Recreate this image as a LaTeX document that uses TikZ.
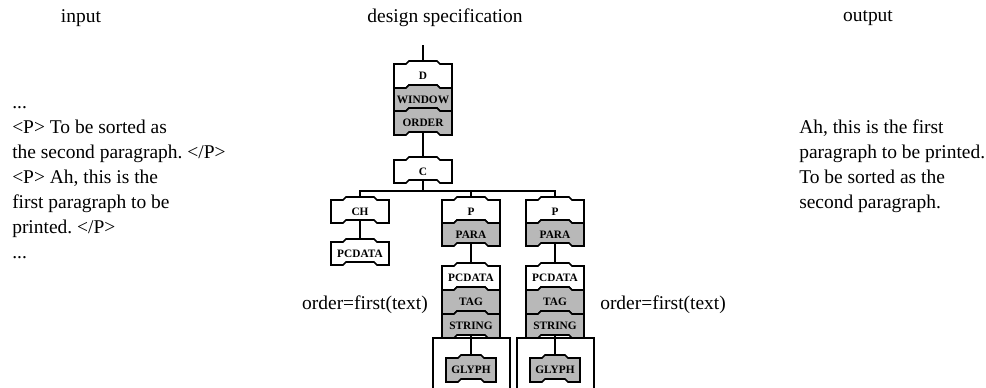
\documentclass[tikz,border=0pt]{standalone}
\usepackage{fontspec}
\setmainfont{Liberation Serif}
\frenchspacing
\newcommand{\tabseg}[5]{%
  \filldraw[seg, fill=#5] ({#1-#4},#2) -- ({#1-#4+12},#2) -- ({#1-#4+15},{#2-3}) -- ({#1+#4-15},{#2-3}) -- ({#1+#4-12},#2) -- ({#1+#4},#2)
   -- ({#1+#4},#3) -- ({#1+#4-12},#3) -- ({#1+#4-15},{#3-3}) -- ({#1-#4+15},{#3-3}) -- ({#1-#4+12},#3) -- ({#1-#4},#3) -- cycle;}
\begin{document}
\begin{tikzpicture}[x=0.75pt,y=-0.75pt,
  seg/.style={draw=black, line width=1.2pt, line join=miter},
  lbl/.style={font=\fontsize{8.5}{8.5}\selectfont\bfseries, inner sep=0pt},
  txt/.style={font=\fontsize{14.6}{18}\selectfont, inner sep=0pt},
  stem/.style={line width=0.9pt},
  frame/.style={line width=0.9pt}]
\useasboundingbox (0,0) rectangle (986,387);
\colorlet{sh}{black!28}

% titles
\node[txt] (tin) at (81,18) {input};
\node[txt] (tds) at (445,18) {design specification};
\node[txt] (tout) at (868,18) {output};

% input text
\node[txt, anchor=base west] (l1) at (12,108) {...};
\node[txt, anchor=base west] (l2) at (12,133) {<P> To be sorted as};
\node[txt, anchor=base west] (l3) at (12,158) {the second paragraph. </P>};
\node[txt, anchor=base west] (l4) at (12,183) {<P> Ah, this is the};
\node[txt, anchor=base west] (l5) at (12,208) {first paragraph to be};
\node[txt, anchor=base west] (l6) at (12,233) {printed. </P>};
\node[txt, anchor=base west] (l7) at (12,258) {...};

% output text
\node[txt, anchor=base west] (r1) at (799,133) {Ah, this is the first};
\node[txt, anchor=base west] (r2) at (799,158) {paragraph to be printed.};
\node[txt, anchor=base west] (r3) at (799,183) {To be sorted as the};
\node[txt, anchor=base west] (r4) at (799,208) {second paragraph.};

% D stack
\tabseg{423}{64}{88}{29}{white}
\tabseg{423}{88}{111}{29}{sh}
\tabseg{423}{111}{135}{29}{sh}
\node[lbl] (D) at (423,76) {D};
\node[lbl] (WINDOW) at (423,99.5) {WINDOW};
\node[lbl] (ORDER) at (423,123) {ORDER};
\coordinate (Dstem) at (423,45);
\coordinate (Dtop) at (423,61);
\coordinate (Dbot) at (423,132);

% C
\tabseg{423}{160}{183}{29}{white}
\node[lbl] (C) at (423,171.5) {C};
\coordinate (Ctop) at (423,157);
\coordinate (Cbot) at (423,180);
\coordinate (bus) at (423,191);

% CH column
\tabseg{360}{200}{223}{29}{white}
\node[lbl] (CH) at (360,211.5) {CH};
\coordinate (CHtop) at (360,197);
\coordinate (CHbot) at (360,220);
\tabseg{360}{242}{265}{29}{white}
\node[lbl] (LPC) at (360,253.5) {PCDATA};
\coordinate (LPtop) at (360,239);

% middle P column
\tabseg{471}{200}{223}{29}{white}
\tabseg{471}{223}{246}{29}{sh}
\node[lbl] (MP) at (471,211.5) {P};
\node[lbl] (MPARA) at (471,234.5) {PARA};
\coordinate (MPtop) at (471,197);
\coordinate (MPbot) at (471,243);
\tabseg{471}{266}{290}{29}{white}
\tabseg{471}{290}{314}{29}{sh}
\tabseg{471}{314}{338}{29}{sh}
\node[lbl] (MPC) at (471,278) {PCDATA};
\node[lbl] (MTAG) at (471,302) {TAG};
\node[lbl] (MSTR) at (471,326) {STRING};
\coordinate (MStop) at (471,263);
\coordinate (MSbot) at (471,335);
\draw[frame] (433,390) -- (433,338) -- (510,338) -- (510,390);
\tabseg{471}{358}{382}{25}{sh}
\node[lbl] (MGL) at (471,370) {GLYPH};
\coordinate (MGtop) at (471,355);

% right P column
\tabseg{555}{200}{223}{29}{white}
\tabseg{555}{223}{246}{29}{sh}
\node[lbl] (RP) at (555,211.5) {P};
\node[lbl] (RPARA) at (555,234.5) {PARA};
\coordinate (RPtop) at (555,197);
\coordinate (RPbot) at (555,243);
\tabseg{555}{266}{290}{29}{white}
\tabseg{555}{290}{314}{29}{sh}
\tabseg{555}{314}{338}{29}{sh}
\node[lbl] (RPC) at (555,278) {PCDATA};
\node[lbl] (RTAG) at (555,302) {TAG};
\node[lbl] (RSTR) at (555,326) {STRING};
\coordinate (RStop) at (555,263);
\coordinate (RSbot) at (555,335);
\draw[frame] (517,390) -- (517,338) -- (594,338) -- (594,390);
\tabseg{555}{358}{382}{25}{sh}
\node[lbl] (RGL) at (555,370) {GLYPH};
\coordinate (RGtop) at (555,355);

% connectors
\draw[stem] (Dstem) -- (Dtop);
\draw[stem] (Dbot) -- (Ctop);
\draw[stem] (Cbot) -- (bus);
\draw[stem] (CHtop) -- (CHtop |- bus) -- (RPtop |- bus) -- (RPtop);
\draw[stem] (MPtop) -- (MPtop |- bus);
\draw[stem] (CHbot) -- (LPtop);
\draw[stem] (MPbot) -- (MStop);
\draw[stem] (RPbot) -- (RStop);
\draw[stem] (MSbot) -- (MGtop);
\draw[stem] (RSbot) -- (RGtop);

% labels
\node[txt, anchor=east] (ordL) at (428,305) {order=first(text)};
\node[txt, anchor=west] (ordR) at (600,305) {order=first(text)};
\end{tikzpicture}
\end{document}
